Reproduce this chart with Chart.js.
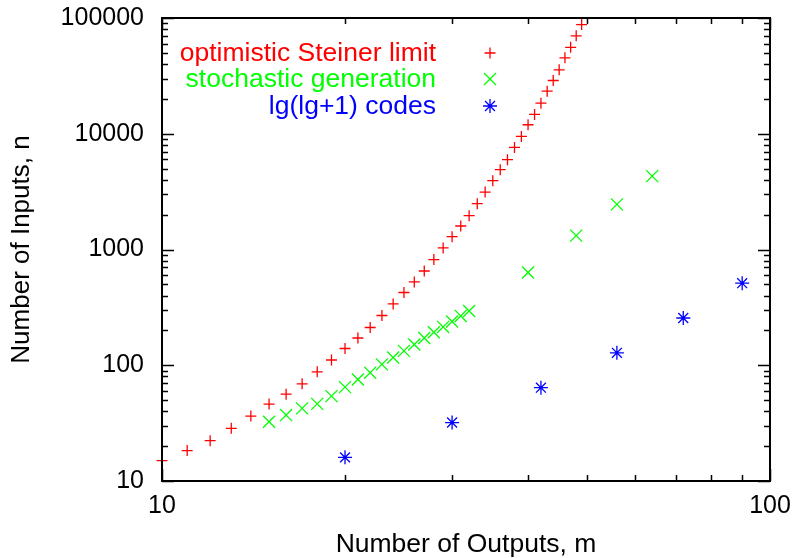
<!DOCTYPE html>
<html>
<head>
<meta charset="utf-8">
<script src="https://cdn.jsdelivr.net/npm/chart.js@4"></script>
<style>
  html, body { margin: 0; padding: 0; background: #fff; }
  #wrap { width: 793px; height: 558px; }
</style>
</head>
<body>
<div id="wrap"><canvas id="plot" width="793" height="558"></canvas></div>
<script>
// values
const steinerM = [10, 11, 12, 13, 14, 15, 16, 17, 18, 19, 20, 21, 22, 23, 24, 25, 26, 27, 28, 29,
  30, 31, 32, 33, 34, 35, 36, 37, 38, 39, 40, 41, 42, 43, 44, 45, 46, 47, 48, 49];
const steinerN = [15, 18.3, 22.3, 28.5, 36.4, 46.2, 56.3, 69.1, 87.7, 111, 139.6, 172, 212, 269, 339,
  425, 525, 652, 818, 1031, 1291, 1596, 1961, 2489, 3135, 3930, 4890, 5970, 7620, 9480,
  11960, 14680, 18360, 23330, 28840, 35650, 45290, 55850, 70120, 87700];
const stochM = [15, 16, 17, 18, 19, 20, 21, 22, 23, 24, 25, 26, 27, 28, 29, 30, 31, 32, 40, 48, 56, 64];
const stochN = [32.5, 37.1, 42.4, 46.4, 54.1, 64.7, 75.4, 86.3, 101.8, 116.8, 133.1, 151.1, 172, 193,
  214.4, 238.7, 266.8, 294, 632, 1318, 2455, 4306];
const lgM = [20, 30, 42, 56, 72, 90];
const lgN = [16, 32, 64, 128, 256, 512];

const xTickLabels = [10, 100];
const yTickLabels = [10, 100, 1000, 10000, 100000];

const seriesNames = ['optimistic Steiner limit', 'stochastic generation', 'lg(lg+1) codes'];

function pts(xs, ys) {
  return xs.map((x, i) => ({ x: x, y: ys[i] }));
}

const fontFam = '"Liberation Sans", Arial, Helvetica, sans-serif';

function noPad(s) {
  s.paddingTop = 0; s.paddingBottom = 0; s.paddingLeft = 0; s.paddingRight = 0;
}

// frame with inward ticks on all four sides, like gnuplot
const framePlugin = {
  id: 'frame',
  afterDraw(chart) {
    const c = chart.ctx;
    const a = chart.chartArea;
    const xs = chart.scales.x, ys = chart.scales.y;
    c.save();
    c.strokeStyle = '#000';
    c.lineWidth = 1.5;
    c.beginPath();
    for (let d = 10; d <= 100000; d *= 10) {
      for (let k = 1; k <= 9; k++) {
        const v = d * k;
        if (v > 100000) break;
        const py = Math.round(ys.getPixelForValue(v)) + 0.5;
        const len = k === 1 ? 12 : 6;
        c.moveTo(a.left, py); c.lineTo(a.left + len, py);
        c.moveTo(a.right, py); c.lineTo(a.right - len, py);
      }
    }
    for (let k = 1; k <= 10; k++) {
      const v = 10 * k;
      const px = Math.round(xs.getPixelForValue(v)) + 0.5;
      const len = (k === 1 || k === 10) ? 12 : 6;
      c.moveTo(px, a.bottom); c.lineTo(px, a.bottom - len);
      c.moveTo(px, a.top); c.lineTo(px, a.top + len);
    }
    c.stroke();
    c.lineWidth = 2;
    c.strokeRect(a.left, a.top, a.right - a.left, a.bottom - a.top);
    c.restore();
  }
};

// gnuplot-style key: right aligned coloured text, sample symbol to the right
const keyPlugin = {
  id: 'key',
  afterDraw(chart) {
    const c = chart.ctx;
    const rows = [54, 80, 107];
    c.save();
    c.font = '26.5px ' + fontFam;
    c.textAlign = 'right';
    c.textBaseline = 'middle';
    chart.data.datasets.forEach((ds, i) => {
      c.fillStyle = ds.borderColor;
      c.fillText(ds.label, 436, rows[i]);
      c.strokeStyle = ds.borderColor;
      c.lineWidth = ds.borderWidth;
      Chart.helpers.drawPoint(c, {
        pointStyle: ds.pointStyle, radius: ds.pointRadius, borderWidth: ds.borderWidth, rotation: 0
      }, 490, rows[i] - 1);
    });
    c.restore();
  }
};

new Chart(document.getElementById('plot'), {
  type: 'scatter',
  data: {
    datasets: [
      { label: seriesNames[0], data: pts(steinerM, steinerN), pointStyle: 'cross', pointRadius: 5.5,
        borderColor: '#ff0000', backgroundColor: '#ff0000', borderWidth: 1.3, clip: false },
      { label: seriesNames[1], data: pts(stochM, stochN), pointStyle: 'crossRot', pointRadius: 8.5,
        borderColor: '#00ff00', backgroundColor: '#00ff00', borderWidth: 1.3, clip: false },
      { label: seriesNames[2], data: pts(lgM, lgN), pointStyle: 'star', pointRadius: 7,
        borderColor: '#0000ff', backgroundColor: '#0000ff', borderWidth: 1.3, clip: false }
    ]
  },
  options: {
    responsive: false,
    animation: false,
    layout: { padding: { top: 18, right: 23, left: 0, bottom: 0 } },
    plugins: {
      legend: { display: false },
      tooltip: { enabled: false }
    },
    elements: { point: { hoverRadius: 0 } },
    scales: {
      x: {
        type: 'logarithmic',
        position: 'bottom',
        min: 10,
        max: 100,
        afterFit: s => { s.height = 77; noPad(s); },
        grid: { display: false, drawTicks: false },
        border: { display: false },
        ticks: {
          autoSkip: false,
          maxRotation: 0,
          padding: 13,
          color: '#000',
          font: { family: fontFam, size: 25, lineHeight: 1 },
          callback: v => xTickLabels.includes(v) ? String(v) : ''
        },
        title: {
          display: true,
          text: 'Number of Outputs, m',
          color: '#000',
          padding: { top: 0, bottom: 0 },
          font: { family: fontFam, size: 26.5, lineHeight: 1 }
        }
      },
      y: {
        type: 'logarithmic',
        position: 'left',
        min: 10,
        max: 100000,
        afterFit: s => { s.width = 162; noPad(s); },
        grid: { display: false, drawTicks: false },
        border: { display: false },
        ticks: {
          autoSkip: false,
          padding: 18,
          color: '#000',
          font: { family: fontFam, size: 25, lineHeight: 1 },
          callback: v => yTickLabels.includes(v) ? String(v) : ''
        },
        title: {
          display: true,
          text: 'Number of Inputs, n',
          color: '#000',
          padding: { top: 9, bottom: 0 },
          font: { family: fontFam, size: 26, lineHeight: 1 }
        }
      }
    }
  },
  plugins: [framePlugin, keyPlugin]
});
</script>
</body>
</html>
